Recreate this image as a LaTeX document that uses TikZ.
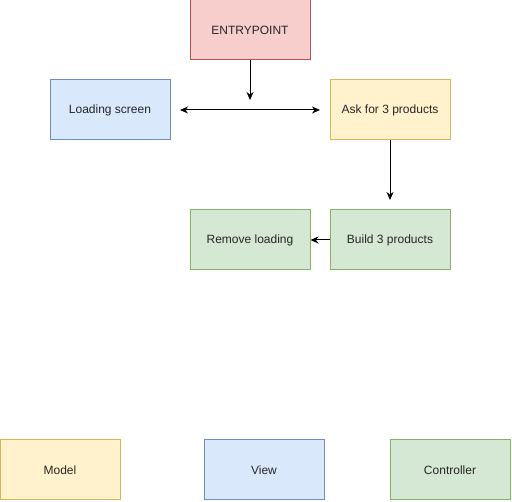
\documentclass[tikz,border=0pt]{standalone}
\usepackage{fontspec}
\setmainfont{Liberation Sans}
\usepackage{xcolor}
\usetikzlibrary{arrows.meta,positioning}

\definecolor{redfill}{HTML}{F8CECC}
\definecolor{reddraw}{HTML}{B85450}
\definecolor{bluefill}{HTML}{DAE8FC}
\definecolor{bluedraw}{HTML}{6C8EBF}
\definecolor{yellowfill}{HTML}{FFF2CC}
\definecolor{yellowdraw}{HTML}{D6B656}
\definecolor{greenfill}{HTML}{D5E8D4}
\definecolor{greendraw}{HTML}{82B366}

\begin{document}
\begin{tikzpicture}[
    x=1pt, y=-1pt,
    box/.style={rectangle, draw, line width=1pt, minimum width=120pt, minimum height=60pt, inner sep=0pt, font=\fontsize{12}{14}\selectfont, text=black!85},
    entry/.style={box, fill=redfill, draw=reddraw},
    viewbox/.style={box, fill=bluefill, draw=bluedraw},
    modelbox/.style={box, fill=yellowfill, draw=yellowdraw},
    ctrlbox/.style={box, fill=greenfill, draw=greendraw},
    arrow/.style={-{Stealth[length=8pt,width=7pt,inset=2.5pt]}, line width=1pt},
    dblarrow/.style={{Stealth[length=8pt,width=7pt,inset=2.5pt]}-{Stealth[length=8pt,width=7pt,inset=2.5pt]}, line width=1pt}
]
\useasboundingbox (0,0) rectangle (512,502);

% Flow
\node[entry] (entrypoint) at (250,30) {ENTRYPOINT};
\node[viewbox] (loading) at (110,110) {Loading screen};
\node[modelbox] (ask) at (390,110) {Ask for 3 products};
\node[ctrlbox] (remove) at (250,240) {Remove loading};
\node[ctrlbox] (build) at (390,240) {Build 3 products};

% Legend
\node[modelbox] (model) at (60,470) {Model};
\node[viewbox] (view) at (264,470) {View};
\node[ctrlbox] (controller) at (450,470) {Controller};

% Free ends
\coordinate (entryend) at (250,100);
\coordinate (dblleft) at (180,110);
\coordinate (dblright) at (320,110);
\coordinate (askend) at (390,200);

% Arrows
\draw[arrow] (entrypoint) -- (entryend);
\draw[dblarrow] (dblleft) -- (dblright);
\draw[arrow] (ask) -- (askend);
\draw[arrow] (build) -- (remove);
\end{tikzpicture}
\end{document}
